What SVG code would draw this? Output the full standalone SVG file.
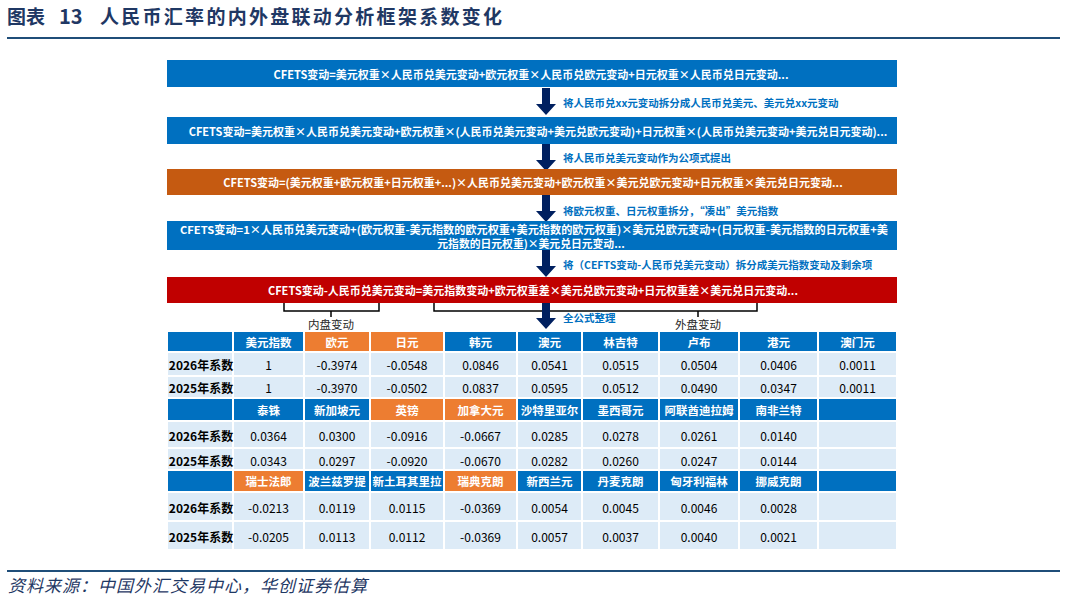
<svg xmlns="http://www.w3.org/2000/svg" width="1066" height="601" viewBox="0 0 1066 601">
<style>
text{font-family:"Noto Sans CJK SC","Noto Sans",sans-serif}
.bt{fill:#fff;font-size:11px;font-weight:bold;text-anchor:middle;dominant-baseline:central}
.bt4{fill:#fff;font-size:10.8px;font-weight:bold;text-anchor:middle;dominant-baseline:central}
.lb{fill:#0070C0;font-size:10.5px;font-weight:bold;dominant-baseline:central}
.hd{fill:#fff;font-size:11.5px;font-weight:bold;text-anchor:middle;dominant-baseline:central}
.dt{fill:#000;font-size:12px;text-anchor:middle;dominant-baseline:central}
.rh{fill:#000;font-size:12px;font-weight:bold;text-anchor:middle;dominant-baseline:central}
.hb{fill:#0070C0;stroke:#fff;stroke-width:2}
.ho{fill:#ED7D31;stroke:#fff;stroke-width:2}
.dc{fill:#DDEBF7;stroke:#fff;stroke-width:2}
.br{fill:none;stroke:#000;stroke-width:1.5}
.cap{fill:#262626;font-size:11.5px;text-anchor:middle;dominant-baseline:central}
</style>
<defs>
<path id="arr" d="M-4,0 H4 V16 H10 L0,27 L-10,16 H-4 Z" fill="#002060"/>
</defs>
<rect width="1066" height="601" fill="#fff"/>
<g id="title">
<text x="7" y="24" font-family="'Liberation Serif','Noto Sans CJK SC',serif" font-size="19" font-weight="bold" fill="#1F3864">图表</text>
<text x="59" y="24" font-family="'Liberation Serif',serif" font-size="20" font-weight="bold" fill="#1F3864">13</text>
<text x="100" y="24" font-size="19" font-weight="bold" fill="#1F3864" textLength="402" lengthAdjust="spacing">人民币汇率的内外盘联动分析框架系数变化</text>
<rect x="7" y="37" width="1053" height="2" fill="#1F4E79"/>
</g>
<g id="connectors">
<use href="#arr" x="546" y="88"/>
<use href="#arr" x="546" y="144"/>
<use href="#arr" x="546" y="195"/>
<use href="#arr" x="546" y="250"/>
<path class="br" d="M284,303 V311 H379 V303 M331,311 V317"/>
<path class="br" d="M434,303 V311 H757 V303 M698,311 V317"/>
<use href="#arr" x="546" y="302"/>
</g>
<g id="bar1"><rect x="167" y="60" width="730" height="27" fill="#0070C0"/><text class="bt" x="531" y="73.5">CFETS变动=美元权重×人民币兑美元变动+欧元权重×人民币兑欧元变动+日元权重×人民币兑日元变动...</text></g>
<g id="lab1"><text class="lb" x="563" y="102">将人民币兑xx元变动拆分成人民币兑美元、美元兑xx元变动</text></g>
<g id="bar2"><rect x="167" y="117" width="730" height="27" fill="#0070C0"/><text class="bt" x="538" y="130.5">CFETS变动=美元权重×人民币兑美元变动+欧元权重×(人民币兑美元变动+美元兑欧元变动)+日元权重×(人民币兑美元变动+美元兑日元变动)...</text></g>
<g id="lab2"><text class="lb" x="563" y="157">将人民币兑美元变动作为公项式提出</text></g>
<g id="bar3"><rect x="167" y="169" width="730" height="26" fill="#C55A11"/><text class="bt" x="533" y="182">CFETS变动=(美元权重+欧元权重+日元权重+...)×人民币兑美元变动+欧元权重×美元兑欧元变动+日元权重×美元兑日元变动...</text></g>
<g id="lab3"><text class="lb" x="563" y="210">将欧元权重、日元权重拆分，“凑出”美元指数</text></g>
<g id="bar4"><rect x="167" y="221" width="730" height="29" fill="#0070C0"/><text class="bt4" x="534" y="228.5" textLength="708" lengthAdjust="spacingAndGlyphs">CFETS变动=1×人民币兑美元变动+(欧元权重-美元指数的欧元权重+美元指数的欧元权重)×美元兑欧元变动+(日元权重-美元指数的日元权重+美</text><text class="bt4" x="531" y="243">元指数的日元权重)×美元兑日元变动...</text></g>
<g id="lab4"><text class="lb" x="563" y="264">将（CEFTS变动-人民币兑美元变动）拆分成美元指数变动及剩余项</text></g>
<g id="bar5"><rect x="167" y="277" width="730" height="26" fill="#C00000"/><text class="bt" x="533" y="290">CFETS变动-人民币兑美元变动=美元指数变动+欧元权重差×美元兑欧元变动+日元权重差×美元兑日元变动...</text></g>
<g id="lab5"><text class="lb" x="563" y="317">全公式整理</text></g>
<g id="cap1"><text class="cap" x="331" y="323.5">内盘变动</text></g>
<g id="cap2"><text class="cap" x="698" y="323.5">外盘变动</text></g>
<g id="table">
<!-- block 1 -->
<rect class="hb" x="167" y="331" width="66" height="21"/>
<rect class="hb" x="233" y="331" width="71" height="21"/>
<rect class="ho" x="304" y="331" width="66" height="21"/>
<rect class="ho" x="370" y="331" width="74" height="21"/>
<rect class="hb" x="444" y="331" width="73" height="21"/>
<rect class="hb" x="517" y="331" width="65" height="21"/>
<rect class="hb" x="582" y="331" width="77" height="21"/>
<rect class="hb" x="659" y="331" width="80" height="21"/>
<rect class="hb" x="739" y="331" width="79" height="21"/>
<rect class="hb" x="818" y="331" width="79" height="21"/>
<g>
<rect class="dc" x="167" y="352" width="66" height="24"/><rect class="dc" x="233" y="352" width="71" height="24"/><rect class="dc" x="304" y="352" width="66" height="24"/><rect class="dc" x="370" y="352" width="74" height="24"/><rect class="dc" x="444" y="352" width="73" height="24"/><rect class="dc" x="517" y="352" width="65" height="24"/><rect class="dc" x="582" y="352" width="77" height="24"/><rect class="dc" x="659" y="352" width="80" height="24"/><rect class="dc" x="739" y="352" width="79" height="24"/><rect class="dc" x="818" y="352" width="79" height="24"/>
<rect class="dc" x="167" y="376" width="66" height="22"/><rect class="dc" x="233" y="376" width="71" height="22"/><rect class="dc" x="304" y="376" width="66" height="22"/><rect class="dc" x="370" y="376" width="74" height="22"/><rect class="dc" x="444" y="376" width="73" height="22"/><rect class="dc" x="517" y="376" width="65" height="22"/><rect class="dc" x="582" y="376" width="77" height="22"/><rect class="dc" x="659" y="376" width="80" height="22"/><rect class="dc" x="739" y="376" width="79" height="22"/><rect class="dc" x="818" y="376" width="79" height="22"/>
</g>
<text class="hd" x="268.5" y="341.5">美元指数</text><text class="hd" x="337" y="341.5">欧元</text><text class="hd" x="407" y="341.5">日元</text><text class="hd" x="480.5" y="341.5">韩元</text><text class="hd" x="549.5" y="341.5">澳元</text><text class="hd" x="620.5" y="341.5">林吉特</text><text class="hd" x="699" y="341.5">卢布</text><text class="hd" x="778.5" y="341.5">港元</text><text class="hd" x="857.5" y="341.5">澳门元</text>
<text class="rh" x="201" y="364">2026年系数</text><text class="dt" x="268.5" y="364">1</text><text class="dt" x="337" y="364">-0.3974</text><text class="dt" x="407" y="364">-0.0548</text><text class="dt" x="480.5" y="364">0.0846</text><text class="dt" x="549.5" y="364">0.0541</text><text class="dt" x="620.5" y="364">0.0515</text><text class="dt" x="699" y="364">0.0504</text><text class="dt" x="778.5" y="364">0.0406</text><text class="dt" x="857.5" y="364">0.0011</text>
<text class="rh" x="201" y="387.5">2025年系数</text><text class="dt" x="268.5" y="387.5">1</text><text class="dt" x="337" y="387.5">-0.3970</text><text class="dt" x="407" y="387.5">-0.0502</text><text class="dt" x="480.5" y="387.5">0.0837</text><text class="dt" x="549.5" y="387.5">0.0595</text><text class="dt" x="620.5" y="387.5">0.0512</text><text class="dt" x="699" y="387.5">0.0490</text><text class="dt" x="778.5" y="387.5">0.0347</text><text class="dt" x="857.5" y="387.5">0.0011</text>
<!-- block 2 -->
<rect class="hb" x="167" y="398" width="66" height="23"/>
<rect class="hb" x="233" y="398" width="71" height="23"/>
<rect class="hb" x="304" y="398" width="66" height="23"/>
<rect class="ho" x="370" y="398" width="74" height="23"/>
<rect class="ho" x="444" y="398" width="73" height="23"/>
<rect class="hb" x="517" y="398" width="65" height="23"/>
<rect class="hb" x="582" y="398" width="77" height="23"/>
<rect class="hb" x="659" y="398" width="80" height="23"/>
<rect class="hb" x="739" y="398" width="79" height="23"/>
<rect class="hb" x="818" y="398" width="79" height="23"/>
<g>
<rect class="dc" x="167" y="421" width="66" height="27"/><rect class="dc" x="233" y="421" width="71" height="27"/><rect class="dc" x="304" y="421" width="66" height="27"/><rect class="dc" x="370" y="421" width="74" height="27"/><rect class="dc" x="444" y="421" width="73" height="27"/><rect class="dc" x="517" y="421" width="65" height="27"/><rect class="dc" x="582" y="421" width="77" height="27"/><rect class="dc" x="659" y="421" width="80" height="27"/><rect class="dc" x="739" y="421" width="79" height="27"/><rect class="dc" x="818" y="421" width="79" height="27"/>
<rect class="dc" x="167" y="448" width="66" height="22"/><rect class="dc" x="233" y="448" width="71" height="22"/><rect class="dc" x="304" y="448" width="66" height="22"/><rect class="dc" x="370" y="448" width="74" height="22"/><rect class="dc" x="444" y="448" width="73" height="22"/><rect class="dc" x="517" y="448" width="65" height="22"/><rect class="dc" x="582" y="448" width="77" height="22"/><rect class="dc" x="659" y="448" width="80" height="22"/><rect class="dc" x="739" y="448" width="79" height="22"/><rect class="dc" x="818" y="448" width="79" height="22"/>
</g>
<text class="hd" x="268.5" y="409.5">泰铢</text><text class="hd" x="337" y="409.5">新加坡元</text><text class="hd" x="407" y="409.5">英镑</text><text class="hd" x="480.5" y="409.5">加拿大元</text><text class="hd" x="549.5" y="409.5">沙特里亚尔</text><text class="hd" x="620.5" y="409.5">墨西哥元</text><text class="hd" x="699" y="409.5">阿联酋迪拉姆</text><text class="hd" x="778.5" y="409.5">南非兰特</text>
<text class="rh" x="201" y="435">2026年系数</text><text class="dt" x="268.5" y="435">0.0364</text><text class="dt" x="337" y="435">0.0300</text><text class="dt" x="407" y="435">-0.0916</text><text class="dt" x="480.5" y="435">-0.0667</text><text class="dt" x="549.5" y="435">0.0285</text><text class="dt" x="620.5" y="435">0.0278</text><text class="dt" x="699" y="435">0.0261</text><text class="dt" x="778.5" y="435">0.0140</text>
<text class="rh" x="201" y="460.5">2025年系数</text><text class="dt" x="268.5" y="460.5">0.0343</text><text class="dt" x="337" y="460.5">0.0297</text><text class="dt" x="407" y="460.5">-0.0920</text><text class="dt" x="480.5" y="460.5">-0.0670</text><text class="dt" x="549.5" y="460.5">0.0282</text><text class="dt" x="620.5" y="460.5">0.0260</text><text class="dt" x="699" y="460.5">0.0247</text><text class="dt" x="778.5" y="460.5">0.0144</text>
<!-- block 3 -->
<rect class="hb" x="167" y="470" width="66" height="22"/>
<rect class="ho" x="233" y="470" width="71" height="22"/>
<rect class="hb" x="304" y="470" width="66" height="22"/>
<rect class="hb" x="370" y="470" width="74" height="22"/>
<rect class="ho" x="444" y="470" width="73" height="22"/>
<rect class="hb" x="517" y="470" width="65" height="22"/>
<rect class="hb" x="582" y="470" width="77" height="22"/>
<rect class="hb" x="659" y="470" width="80" height="22"/>
<rect class="hb" x="739" y="470" width="79" height="22"/>
<rect class="hb" x="818" y="470" width="79" height="22"/>
<g>
<rect class="dc" x="167" y="492" width="66" height="29"/><rect class="dc" x="233" y="492" width="71" height="29"/><rect class="dc" x="304" y="492" width="66" height="29"/><rect class="dc" x="370" y="492" width="74" height="29"/><rect class="dc" x="444" y="492" width="73" height="29"/><rect class="dc" x="517" y="492" width="65" height="29"/><rect class="dc" x="582" y="492" width="77" height="29"/><rect class="dc" x="659" y="492" width="80" height="29"/><rect class="dc" x="739" y="492" width="79" height="29"/><rect class="dc" x="818" y="492" width="79" height="29"/>
<rect class="dc" x="167" y="521" width="66" height="29"/><rect class="dc" x="233" y="521" width="71" height="29"/><rect class="dc" x="304" y="521" width="66" height="29"/><rect class="dc" x="370" y="521" width="74" height="29"/><rect class="dc" x="444" y="521" width="73" height="29"/><rect class="dc" x="517" y="521" width="65" height="29"/><rect class="dc" x="582" y="521" width="77" height="29"/><rect class="dc" x="659" y="521" width="80" height="29"/><rect class="dc" x="739" y="521" width="79" height="29"/><rect class="dc" x="818" y="521" width="79" height="29"/>
</g>
<text class="hd" x="268.5" y="481">瑞士法郎</text><text class="hd" x="337" y="481">波兰兹罗提</text><text class="hd" x="407" y="481">新土耳其里拉</text><text class="hd" x="480.5" y="481">瑞典克朗</text><text class="hd" x="549.5" y="481">新西兰元</text><text class="hd" x="620.5" y="481">丹麦克朗</text><text class="hd" x="699" y="481">匈牙利福林</text><text class="hd" x="778.5" y="481">挪威克朗</text>
<text class="rh" x="201" y="507">2026年系数</text><text class="dt" x="268.5" y="507">-0.0213</text><text class="dt" x="337" y="507">0.0119</text><text class="dt" x="407" y="507">0.0115</text><text class="dt" x="480.5" y="507">-0.0369</text><text class="dt" x="549.5" y="507">0.0054</text><text class="dt" x="620.5" y="507">0.0045</text><text class="dt" x="699" y="507">0.0046</text><text class="dt" x="778.5" y="507">0.0028</text>
<text class="rh" x="201" y="536.5">2025年系数</text><text class="dt" x="268.5" y="536.5">-0.0205</text><text class="dt" x="337" y="536.5">0.0113</text><text class="dt" x="407" y="536.5">0.0112</text><text class="dt" x="480.5" y="536.5">-0.0369</text><text class="dt" x="549.5" y="536.5">0.0057</text><text class="dt" x="620.5" y="536.5">0.0037</text><text class="dt" x="699" y="536.5">0.0040</text><text class="dt" x="778.5" y="536.5">0.0021</text>
</g>
<g id="footer">
<rect x="7" y="570" width="1053" height="2" fill="#1F4E79"/>
<text x="8" y="592" font-size="17" font-style="italic" fill="#1F3864" textLength="359" lengthAdjust="spacing">资料来源：中国外汇交易中心，华创证券估算</text>
</g>
</svg>
